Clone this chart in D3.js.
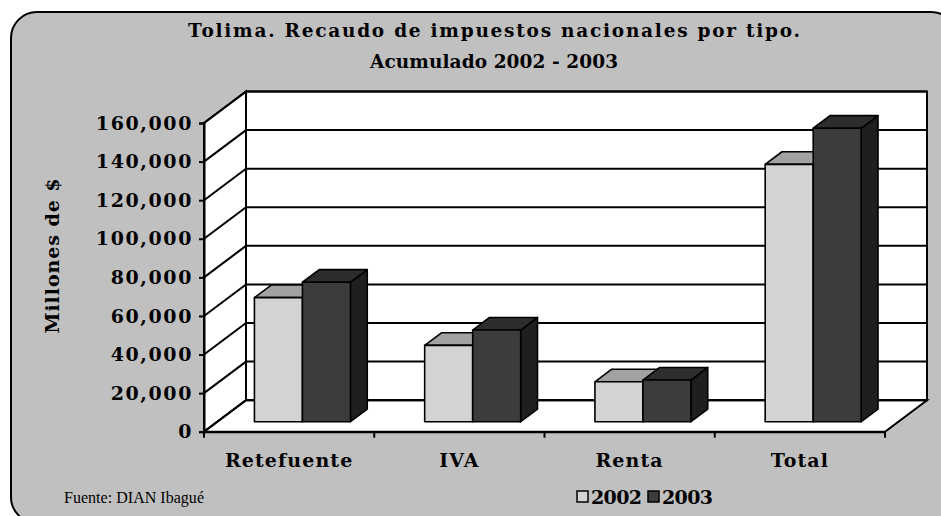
<!DOCTYPE html>
<html>
<head>
<meta charset="utf-8">
<script src="https://cdn.jsdelivr.net/npm/d3@7"></script>
<style>
  html, body { margin: 0; padding: 0; background: #ffffff; }
  svg { display: block; }
</style>
</head>
<body>
<svg id="chart" width="941" height="516"></svg>
<script>
// ---- data ----
const categories = ["Retefuente", "IVA", "Renta", "Total"];
const series = ["2002", "2003"];
const values2002 = [64300, 39550, 20700, 133400];
const values2003 = [72300, 47500, 21600, 152100];
const yTicks = [0, 20000, 40000, 60000, 80000, 100000, 120000, 140000, 160000];
const titleLines = ["Tolima. Recaudo de impuestos nacionales por tipo.", "Acumulado 2002 - 2003"];
const yTitle = "Millones de $";
const sourceText = "Fuente: DIAN Ibagué";

// ---- layout ----
const svg = d3.select("#chart");
const X0 = 204, X1 = 885, Y0 = 431.7, YT = 123;
const DX = 42, DY = 31.5;         // wall depth
const F0 = 0.317, FB = 0.40;      // bar front depth fraction, bar depth fraction
const serif = "'DejaVu Serif', 'Liberation Serif', serif";

const x = d3.scaleBand().domain(categories).range([X0, X1]);
const y = d3.scaleLinear().domain([0, 160000]).range([Y0, YT]);

// outer frame
svg.append("rect")
  .attr("x", 11).attr("y", 12).attr("width", 946).attr("height", 511)
  .attr("rx", 26).attr("ry", 26)
  .attr("fill", "#c0c0c0").attr("stroke", "#000").attr("stroke-width", 2);

// title
const titleWidths = [612, 248];
svg.selectAll("text.title").data(titleLines).join("text")
  .attr("class", "title")
  .attr("x", 494).attr("y", (d, i) => 37 + i * 31)
  .attr("text-anchor", "middle")
  .attr("font-family", serif).attr("font-weight", "bold")
  .attr("font-size", 18.5)
  .attr("textLength", (d, i) => titleWidths[i]).attr("lengthAdjust", "spacing")
  .attr("fill", "#000")
  .text(d => d);

const g = svg.append("g");
const line = d3.line();
const poly = pts => "M" + pts.map(p => p.join(",")).join("L") + "Z";

// walls
g.append("path")
  .attr("d", poly([[X0, Y0], [X0, YT], [X0 + DX, YT - DY], [X0 + DX, Y0 - DY]]))
  .attr("fill", "#fff").attr("stroke", "#000").attr("stroke-width", 2);
g.append("path")
  .attr("d", poly([[X0 + DX, YT - DY], [X1 + DX, YT - DY], [X1 + DX, Y0 - DY], [X0 + DX, Y0 - DY]]))
  .attr("fill", "#fff").attr("stroke", "#000").attr("stroke-width", 2);
g.append("path")
  .attr("d", poly([[X0, Y0], [X1, Y0], [X1 + DX, Y0 - DY], [X0 + DX, Y0 - DY]]))
  .attr("fill", "#fff").attr("stroke", "#000").attr("stroke-width", 2);

// gridlines
g.selectAll("path.gridSide").data(yTicks).join("path")
  .attr("class", "gridSide")
  .attr("d", t => line([[X0, y(t)], [X0 + DX, y(t) - DY]]))
  .attr("stroke", "#000").attr("stroke-width", 2).attr("fill", "none");
g.selectAll("path.gridBack").data(yTicks).join("path")
  .attr("class", "gridBack")
  .attr("d", t => line([[X0 + DX, y(t) - DY], [X1 + DX, y(t) - DY]]))
  .attr("stroke", "#000").attr("stroke-width", 2).attr("fill", "none");

// bars
const bw = x.bandwidth();
const barW = bw * 0.282;
const offX = F0 * DX, offY = F0 * DY;
const ddx = FB * DX, ddy = FB * DY;
const colors = {
  "2002": { front: "#d3d3d3", top: "#a2a2a2", side: "#8a8a8a" },
  "2003": { front: "#3c3c3c", top: "#2d2d2d", side: "#1f1f1f" }
};
const barData = [];
categories.forEach((c, i) => {
  series.forEach((s, j) => {
    const v = (s === "2002" ? values2002 : values2003)[i];
    barData.push({ c, s, j, v });
  });
});
const bars = g.selectAll("g.bar").data(barData).join("g").attr("class", "bar");
bars.each(function(d) {
  const sel = d3.select(this);
  const xl = x(d.c) + (bw - 2 * barW) / 2 + d.j * barW + offX;
  const xr = xl + barW;
  const yb = y(0) - offY;
  const yt = y(d.v) - offY;
  const col = colors[d.s];
  sel.append("path").attr("d", poly([[xr, yt], [xr + ddx, yt - ddy], [xr + ddx, yb - ddy], [xr, yb]]))
    .attr("fill", col.side).attr("stroke", "#000").attr("stroke-width", 1.6).attr("stroke-linejoin", "round");
  sel.append("path").attr("d", poly([[xl, yt], [xr, yt], [xr + ddx, yt - ddy], [xl + ddx, yt - ddy]]))
    .attr("fill", col.top).attr("stroke", "#000").attr("stroke-width", 1.6).attr("stroke-linejoin", "round");
  sel.append("path").attr("d", poly([[xl, yt], [xr, yt], [xr, yb], [xl, yb]]))
    .attr("fill", col.front).attr("stroke", "#000").attr("stroke-width", 1.6).attr("stroke-linejoin", "round");
});

// y axis
const yAxis = d3.axisLeft(y).tickValues(yTicks).tickSize(5).tickPadding(6)
  .tickFormat(d3.format(","));
const ya = svg.append("g").attr("transform", `translate(${X0},0)`).call(yAxis);
ya.select(".domain").attr("stroke", "#000").attr("stroke-width", 2);
ya.selectAll(".tick line").attr("stroke", "#000").attr("stroke-width", 2);
ya.selectAll(".tick text")
  .attr("font-family", serif).attr("font-weight", "bold").attr("font-size", 19)
  .attr("letter-spacing", 1.6).attr("fill", "#000");

// x axis (labels at centers, ticks at boundaries)
const xAxis = d3.axisBottom(x).tickSize(0).tickPadding(22);
const xa = svg.append("g").attr("transform", `translate(0,${Y0})`).call(xAxis);
xa.select(".domain").attr("stroke", "#000").attr("stroke-width", 2);
xa.selectAll(".tick text")
  .attr("font-family", serif).attr("font-weight", "bold").attr("font-size", 19)
  .attr("letter-spacing", 1.1).attr("fill", "#000");
const bounds = categories.map(c => x(c)).concat([x(categories[categories.length - 1]) + bw]);
xa.selectAll("line.bnd").data(bounds).join("line")
  .attr("class", "bnd")
  .attr("x1", d => d).attr("x2", d => d).attr("y1", 0).attr("y2", 6)
  .attr("stroke", "#000").attr("stroke-width", 2);

// y title
svg.append("text")
  .attr("transform", "translate(59,256) rotate(-90)")
  .attr("text-anchor", "middle")
  .attr("font-family", serif).attr("font-weight", "bold").attr("font-size", 19)
  .attr("textLength", 155).attr("lengthAdjust", "spacing")
  .attr("fill", "#000")
  .text(yTitle);

// source
svg.append("text")
  .attr("x", 64).attr("y", 503)
  .attr("font-family", "'Liberation Serif', serif").attr("font-size", 16)
  .attr("textLength", 140).attr("lengthAdjust", "spacing")
  .attr("fill", "#000")
  .text(sourceText);

// legend
const leg = svg.append("g").attr("transform", "translate(577,497)");
const legItems = leg.selectAll("g").data(series).join("g")
  .attr("transform", (d, i) => `translate(${i * 71},0)`);
legItems.append("rect")
  .attr("x", 0).attr("y", -6).attr("width", 11).attr("height", 11)
  .attr("fill", d => colors[d].front).attr("stroke", "#000").attr("stroke-width", 1.5);
legItems.append("text")
  .attr("x", 14).attr("y", 7)
  .attr("font-family", serif).attr("font-weight", "bold").attr("font-size", 19)
  .attr("textLength", 51).attr("lengthAdjust", "spacing")
  .attr("fill", "#000")
  .text(d => d);
</script>
</body>
</html>
